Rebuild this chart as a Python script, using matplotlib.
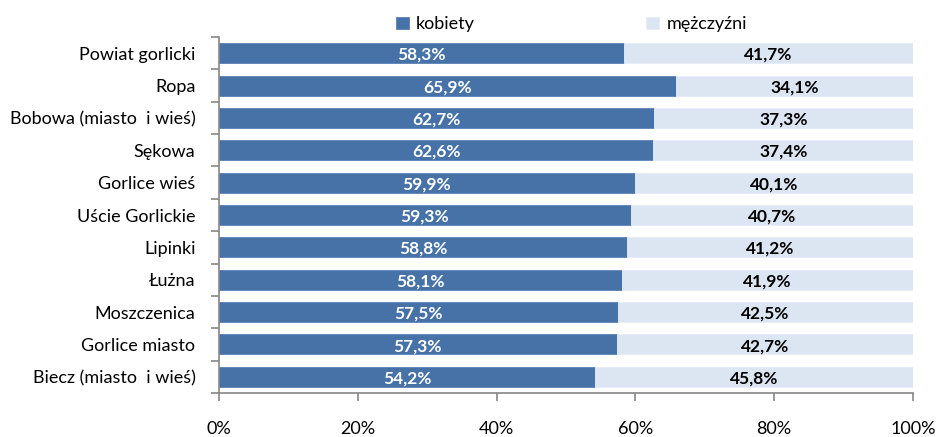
import matplotlib
matplotlib.use('Agg')
import matplotlib.pyplot as plt
import numpy as np

# data
categories = ['Powiat gorlicki', 'Ropa', 'Bobowa (miasto  i wieś)', 'Sękowa',
              'Gorlice wieś', 'Uście Gorlickie', 'Lipinki', 'Łużna',
              'Moszczenica', 'Gorlice miasto', 'Biecz (miasto  i wieś)']
kobiety = [58.3, 65.9, 62.7, 62.6, 59.9, 59.3, 58.8, 58.1, 57.5, 57.3, 54.2]
mezczyzni = [41.7, 34.1, 37.3, 37.4, 40.1, 40.7, 41.2, 41.9, 42.5, 42.7, 45.8]
xticks = [0, 20, 40, 60, 80, 100]

dark = '#4672A8'
light = '#DCE6F2'
axcol = '#868686'

plt.rcParams['font.family'] = ['Lato', 'DejaVu Sans']

fig = plt.figure(figsize=(9.38, 4.37), dpi=100)
ax = fig.add_axes([0.2335, 0.1007, 0.7398, 0.8146])

y = np.arange(len(categories))
k = np.array(kobiety)
m = np.array(mezczyzni)
h = 0.62

ax.barh(y, k, height=h, color=dark, edgecolor='#5A82B5', linewidth=0.6, label='kobiety')
ax.barh(y, m, left=k, height=h, color=light, edgecolor='#E6EDF6', linewidth=0.6, label='mężczyźni')

for i in range(len(categories)):
    ax.text(k[i] / 2, y[i] + 0.05, ('%.1f%%' % k[i]).replace('.', ','),
            ha='center', va='center', color='white', fontsize=12.5, fontweight='bold')
    ax.text(k[i] + m[i] / 2, y[i] + 0.05, ('%.1f%%' % m[i]).replace('.', ','),
            ha='center', va='center', color='black', fontsize=12.5, fontweight='bold')

ax.set_xlim(0, 100)
ax.set_ylim(len(categories) - 0.5, -0.5)
ax.set_xticks(xticks)
ax.set_xticklabels(['%d%%' % t for t in xticks], fontsize=13)
ax.set_yticks(y)
ax.set_yticklabels(categories, fontsize=13)
ax.set_yticks(np.arange(len(categories) + 1) - 0.5, minor=True)

ax.tick_params(axis='y', which='major', length=0, pad=17)
ax.tick_params(axis='y', which='minor', length=6, color=axcol, width=1.2)
ax.tick_params(axis='x', length=6, color=axcol, width=1.2, pad=14)

for s in ['top', 'right']:
    ax.spines[s].set_visible(False)
for s in ['left', 'bottom']:
    ax.spines[s].set_color(axcol)
    ax.spines[s].set_linewidth(1.2)

fig.legend(loc='upper left', bbox_to_anchor=(0.405, 1.0), ncol=2, frameon=False,
           fontsize=13, handlelength=0.7, handleheight=0.7, handletextpad=0.4,
           columnspacing=9.5)

fig.savefig('out.png', dpi=100)
